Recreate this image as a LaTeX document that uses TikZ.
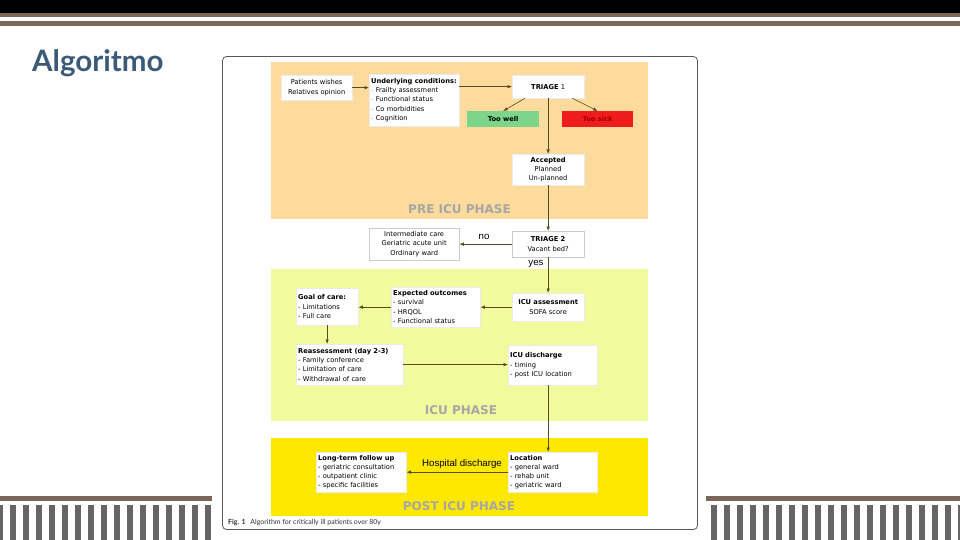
\documentclass[tikz,border=0pt]{standalone}
\usepackage{fontspec}
\setmainfont{DejaVu Sans}
\newfontfamily\labfont{Liberation Sans}
\newfontfamily\latofont{Lato}
\usetikzlibrary{arrows.meta}
\definecolor{topbrown}{HTML}{7B665A}
\definecolor{bargray}{HTML}{666666}
\definecolor{titleblue}{HTML}{3B5A78}
\definecolor{preorange}{HTML}{FDDB9C}
\definecolor{icugreen}{HTML}{F2FA9E}
\definecolor{postyellow}{HTML}{FFE800}
\definecolor{wellgreen}{HTML}{7DD58A}
\definecolor{sickred}{HTML}{EE1C1C}
\definecolor{sicktext}{HTML}{A00000}
\definecolor{arrowcol}{HTML}{584A22}
\definecolor{phasegray}{HTML}{A6A6A6}
\tikzset{
  box/.style={anchor=north west, fill=white, draw=black!8, line width=0.3pt,
    inner xsep=2pt, inner ysep=2pt, font=\fontsize{6.7}{9.3}\selectfont},
  cbox/.style={box, align=center},
  lbox/.style={box, align=left},
  arr/.style={draw=arrowcol, line width=0.6pt, -{Latex[length=4.5pt,width=3.5pt]}},
  phase/.style={font=\fontsize{12}{14}\selectfont\bfseries, text=phasegray},
  lab/.style={font=\labfont\fontsize{9.7}{11}\selectfont, inner sep=0pt},
  bar/.style={fill=bargray, draw=none}
}
\begin{document}
\begin{tikzpicture}[x=1pt,y=-1pt]
\useasboundingbox (0,0) rectangle (960,540);
% top stripes
\fill[black] (0,0) rectangle (960,13);
\fill[topbrown] (0,13) rectangle (960,17.5);
\fill[topbrown] (0,21) rectangle (960,26);
% bottom decoration
\fill[topbrown] (0,496) rectangle (212,501);
\fill[topbrown] (706,496) rectangle (960,501);
\foreach \k in {-1,0,...,15} {\fill[bargray] ({10+13*\k},505) rectangle ({16+13*\k},540);}
\foreach \k in {0,1,...,19} {\fill[bargray] ({711+13*\k},505) rectangle ({717+13*\k},540);}
% title
\node[anchor=west, font=\latofont\bfseries\fontsize{29.5}{34}\selectfont, text=titleblue, inner sep=0pt] (title) at (32,63) {Algoritmo};
% figure frame
\draw[rounded corners=4pt, draw=black!65, line width=0.8pt, fill=white] (222.5,56.5) rectangle (697.5,529.5);
% phase panels
\fill[preorange] (271,62) rectangle (648,219);
\fill[icugreen] (271,269) rectangle (648,421);
\fill[postyellow] (271,437.5) rectangle (648,516);
\node[phase] (prelab) at (459.5,209) {PRE ICU PHASE};
\node[phase] (iculab) at (461,410.5) {ICU PHASE};
\node[phase] (postlab) at (459,506) {POST ICU PHASE};
% pre ICU
\node[cbox, minimum width=71, minimum height=25] (pw) at (281,75) {Patients wishes\\Relatives opinion};
\node[lbox, minimum width=90, minimum height=52, text width=86] (uc) at (369,74) {\mbox{\textbf{Underlying conditions:}}\\$\cdot$ Frailty assessment\\$\cdot$ Functional status\\$\cdot$ Co morbidities\\$\cdot$ Cognition};
\node[cbox, minimum width=72, minimum height=23] (t1) at (512,75) {\textbf{TRIAGE} 1};
\node[cbox, minimum width=72, minimum height=16, fill=wellgreen, draw=none] (tw) at (467,111) {\textbf{Too well}};
\node[cbox, minimum width=71, minimum height=16, fill=sickred, draw=none, text=sicktext] (ts) at (562,111) {\textbf{Too sick}};
\node[cbox, minimum width=72, minimum height=31] (acc) at (512,154) {\textbf{Accepted}\\Planned\\Un-planned};
% triage 2
\node[cbox, minimum width=72, minimum height=26, draw=black!20] (t2) at (512,231) {\textbf{TRIAGE 2}\\Vacant bed?};
\node[cbox, minimum width=90, minimum height=32, draw=black!20] (im) at (369,228) {Intermediate care\\Geriatric acute unit\\Ordinary ward};
% ICU
\node[lbox, minimum width=62, minimum height=37, text width=58] (goc) at (296,288) {\textbf{Goal of care:}\\- Limitations\\- Full care};
\node[lbox, minimum width=89, minimum height=40, text width=85] (eo) at (391,287) {\textbf{Expected outcomes}\\- survival\\- HRQOL\\- Functional status};
\node[cbox, minimum width=72, minimum height=28] (icua) at (512,293) {\textbf{ICU assessment}\\SOFA score};
\node[lbox, minimum width=107, minimum height=41, text width=103] (ra) at (296,344) {\mbox{\textbf{Reassessment (day 2-3)}}\\- Family conference\\- Limitation of care\\- Withdrawal of care};
\node[lbox, minimum width=89, minimum height=40, text width=85] (icud) at (508,345) {\textbf{ICU discharge}\\- timing\\- post ICU location};
% post ICU
\node[lbox, minimum width=90, minimum height=40, text width=86] (lt) at (316,452) {\mbox{\textbf{Long-term follow up}}\\- geriatric consultation\\- outpatient clinic\\- specific facilities};
\node[lbox, minimum width=89, minimum height=40, text width=85] (loc) at (508,452) {\textbf{Location}\\- general ward\\- rehab unit\\- geriatric ward};
% connectors
\draw[arr] (pw.east) -- (pw.east -| uc.west);
\draw[arr] (t1.west -| uc.east) -- (t1.west);
\draw[arr] ([xshift=13pt]t1.south west) -- (tw.north);
\draw[arr] ([xshift=-12pt]t1.south east) -- (ts.north);
\draw[arr] (t1.south) -- (acc.north);
\draw[arr] (acc.south) -- (t2.north);
\draw[arr] (t2.west) -- (im.east);
\node[lab] (no) at (484,237) {no};
\draw[arr] (t2.south) -- (icua.north);
\node[lab] (yes) at (536,264) {yes};
\draw[arr] (icua.west) -- (icua.west -| eo.east);
\draw[arr] (eo.west) -- (eo.west -| goc.east);
\draw[arr] (goc.south) -- (goc.south |- ra.north);
\draw[arr] (ra.east) -- (ra.east -| icud.west);
\draw[arr] (icud.south -| t1.south) -- (loc.north -| t1.south);
\draw[arr] (loc.west) -- (loc.west -| lt.east);
\node[lab] (hd) at (462,464) {Hospital discharge};
% caption
\node[anchor=west, inner sep=0pt, font=\latofont\fontsize{7}{8}\selectfont, text=black!80] (cap) at (228,523) {\textbf{Fig. 1}\hspace{3pt} Algorithm for critically ill patients over 80y};
\end{tikzpicture}
\end{document}
